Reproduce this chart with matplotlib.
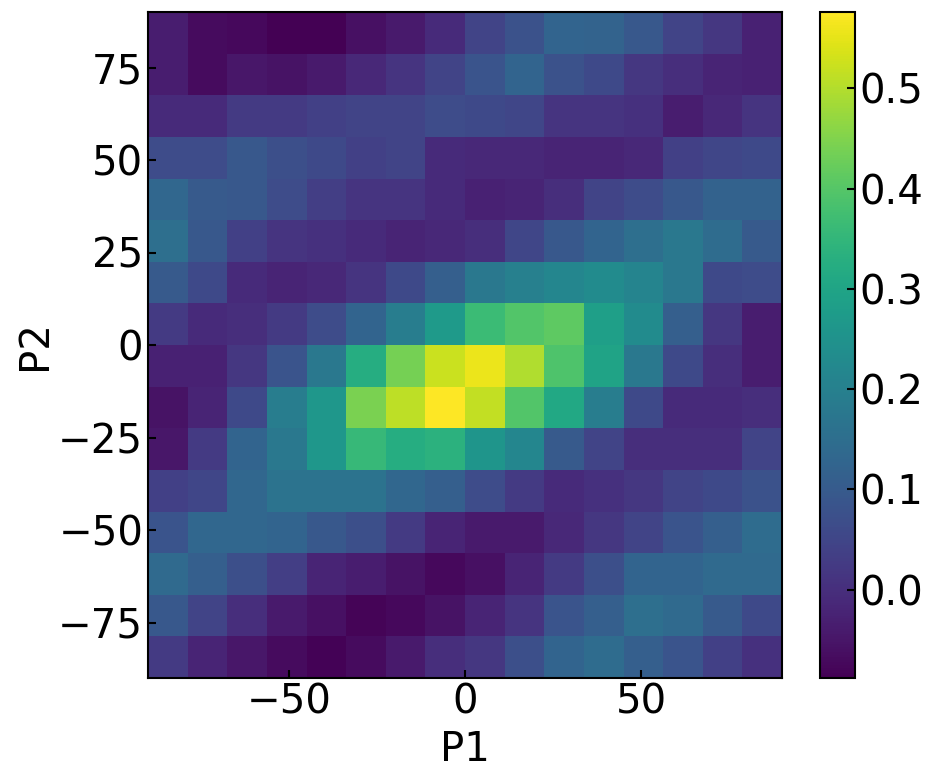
import numpy as np
import matplotlib
matplotlib.use("Agg")
import matplotlib.pyplot as plt

# bin edges
p1_edges = np.linspace(-90, 90, 17)
p2_edges = np.linspace(-90, 90, 17)

# values, rows listed from top (P2 high) to bottom (P2 low)
row_78 = [-0.035,-0.068,-0.075,-0.088,-0.086,-0.061,-0.042,-0.008,0.045,0.078,0.124,0.122,0.091,0.045,0.018,-0.028]
row_67 = [-0.035,-0.068,-0.048,-0.055,-0.042,-0.015,0.012,0.045,0.085,0.124,0.078,0.058,0.018,-0.002,-0.022,-0.028]
row_56 = [-0.008,-0.008,0.025,0.025,0.038,0.045,0.045,0.065,0.058,0.051,0.012,0.012,0.005,-0.035,-0.015,0.012]
row_45 = [0.065,0.065,0.091,0.071,0.058,0.038,0.045,-0.008,-0.015,-0.015,-0.022,-0.022,-0.015,0.038,0.051,0.058]
row_33 = [0.131,0.098,0.091,0.065,0.032,0.012,0.012,-0.008,-0.028,-0.022,-0.002,0.045,0.065,0.091,0.118,0.118]
row_22 = [0.151,0.091,0.038,0.012,0.005,-0.008,-0.022,-0.015,-0.002,0.051,0.091,0.124,0.151,0.178,0.144,0.098]
row_11 = [0.098,0.058,-0.008,-0.022,-0.015,0.012,0.058,0.111,0.178,0.198,0.217,0.231,0.211,0.178,0.058,0.065]
row_0 = [0.025,-0.008,-0.002,0.025,0.065,0.124,0.191,0.271,0.364,0.397,0.410,0.284,0.231,0.111,0.018,-0.035]
row_m11 = [-0.028,-0.028,0.018,0.085,0.178,0.324,0.437,0.523,0.556,0.496,0.390,0.297,0.178,0.058,-0.002,-0.035]
row_m22 = [-0.055,-0.022,0.058,0.191,0.264,0.443,0.510,0.576,0.516,0.397,0.310,0.191,0.058,-0.008,-0.008,-0.002]
row_m33 = [-0.048,0.025,0.124,0.178,0.264,0.357,0.324,0.337,0.257,0.217,0.098,0.045,-0.002,-0.002,-0.002,0.045]
row_m45 = [0.038,0.051,0.131,0.164,0.164,0.164,0.131,0.111,0.065,0.025,-0.008,0.005,0.018,0.045,0.058,0.078]
row_m56 = [0.085,0.131,0.131,0.124,0.091,0.071,0.025,-0.022,-0.042,-0.042,-0.015,0.018,0.045,0.085,0.111,0.144]
row_m67 = [0.138,0.111,0.071,0.032,-0.022,-0.035,-0.055,-0.075,-0.061,-0.022,0.025,0.071,0.124,0.124,0.138,0.138]
row_m78 = [0.091,0.045,-0.002,-0.042,-0.061,-0.081,-0.075,-0.055,-0.022,0.012,0.085,0.111,0.151,0.138,0.098,0.058]
row_m90 = [0.025,-0.022,-0.048,-0.068,-0.085,-0.068,-0.042,-0.002,0.018,0.071,0.124,0.144,0.111,0.085,0.038,0.005]

rows_top_to_bottom = [row_78, row_67, row_56, row_45, row_33, row_22, row_11, row_0,
                      row_m11, row_m22, row_m33, row_m45, row_m56, row_m67, row_m78, row_m90]
Z = np.array(rows_top_to_bottom[::-1])

x_ticks = [-50, 0, 50]
y_ticks = [-75, -50, -25, 0, 25, 50, 75]
cb_ticks = [0.0, 0.1, 0.2, 0.3, 0.4, 0.5]

fs = 29
fig = plt.figure(figsize=(9.36, 7.81), dpi=100)
ax = fig.add_axes([148/936, 1-678/781, (782-148)/936, (678-12)/781])
cax = fig.add_axes([820/936, 1-678/781, 35/936, (678-12)/781])

mesh = ax.pcolormesh(p1_edges, p2_edges, Z, cmap="viridis")
ax.set_xlim(-90, 90)
ax.set_ylim(-90, 90)
ax.set_xticks(x_ticks)
ax.set_yticks(y_ticks)
ax.tick_params(direction="in", labelsize=fs, length=6, width=1.5)
ax.set_xlabel("P1", fontsize=fs, labelpad=5)
ax.set_ylabel("P2", fontsize=fs, labelpad=2)
for s in ax.spines.values():
    s.set_linewidth(1.5)

cb = fig.colorbar(mesh, cax=cax)
cb.set_ticks(cb_ticks)
cb.ax.tick_params(direction="in", labelsize=fs, length=6, width=1.5)
cb.outline.set_linewidth(1.5)

fig.savefig("out.png", dpi=100)
